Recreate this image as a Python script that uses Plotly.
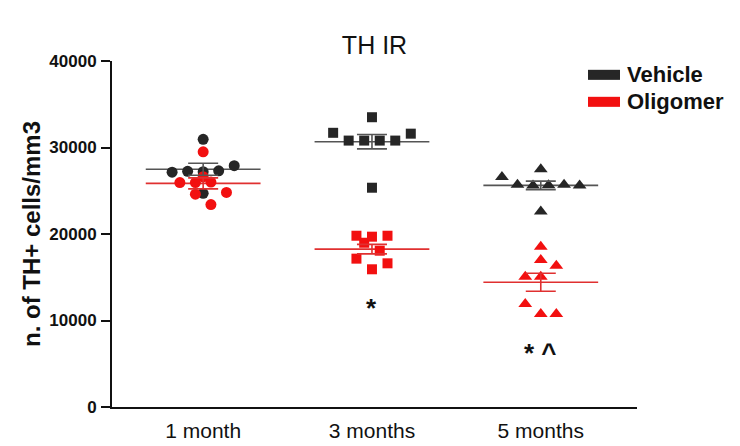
import plotly.graph_objects as go
import numpy as np

# ---- data ----
categories = ["1 month", "3 months", "5 months"]
vehicle_1m = [30950, 27150, 27250, 27200, 27300, 27900, 24700]
vehicle_3m = [33500, 31700, 30800, 30800, 30800, 30800, 31600, 25350]
vehicle_5m = [27500, 26600, 25700, 25600, 25650, 25700, 25600, 22600]
oligomer_1m = [29500, 26620, 25950, 25950, 26000, 24800, 24600, 23400]
oligomer_3m = [19800, 18990, 19690, 19800, 18070, 17150, 15920, 16610]
oligomer_5m = [18530, 16990, 15060, 15060, 16340, 11910, 10750, 10750]
star_labels = ["", "*", "* ^"]
y_ticks = [0, 10000, 20000, 30000, 40000]
series_names = ["Vehicle", "Oligomer"]

vehicle = [vehicle_1m, vehicle_3m, vehicle_5m]
oligomer = [oligomer_1m, oligomer_3m, oligomer_5m]

DARK = "#262626"
RED = "#f21010"
FONT = "Liberation Sans, Arial, sans-serif"
symbols = ["circle", "square", "triangle-up"]
sizes = [11, 10, 12]


def swarm(values, h=1300, step=0.092):
    """Prism-like column scatter: bin close values, spread each bin horizontally."""
    n = len(values)
    order = sorted(range(n), key=lambda i: values[i])
    bins, cur, start = [], [], None
    for i in order:
        if cur and values[i] - start > h:
            bins.append(cur)
            cur = []
        if not cur:
            start = values[i]
        cur.append(i)
    if cur:
        bins.append(cur)
    off = [0.0] * n
    for b in bins:
        b = sorted(b)
        for k, i in enumerate(b):
            off[i] = (k - (len(b) - 1) / 2) * step
    return off


fig = go.Figure()

HALF = 0.34
for series, lcolor in [(vehicle, "#555555"), (oligomer, "#e03030")]:
    for ci, vals in enumerate(series):
        m = float(np.mean(vals))
        fig.add_trace(go.Scatter(x=[ci - HALF, ci + HALF], y=[m, m], mode="lines",
                                 line=dict(color=lcolor, width=1.6), showlegend=False,
                                 hoverinfo="skip"))

for name, series, color in [(series_names[0], vehicle, DARK), (series_names[1], oligomer, RED)]:
    for ci, vals in enumerate(series):
        off = swarm(vals)
        fig.add_trace(go.Scatter(
            x=[ci + o for o in off], y=vals, mode="markers", name=name,
            marker=dict(symbol=symbols[ci], size=sizes[ci], color=color,
                        line=dict(width=0)),
            showlegend=False))

for series, lcolor in [(vehicle, "#555555"), (oligomer, "#e03030")]:
    for ci, vals in enumerate(series):
        m = float(np.mean(vals))
        sem = float(np.std(vals, ddof=1) / np.sqrt(len(vals)))
        fig.add_trace(go.Scatter(x=[ci], y=[m], mode="markers",
                                 marker=dict(size=1, opacity=0),
                                 error_y=dict(type="data", array=[sem], visible=True,
                                              color=lcolor, thickness=1.6, width=15),
                                 showlegend=False, hoverinfo="skip"))

annotations = []
for ci, lab in enumerate(star_labels):
    if lab:
        annotations.append(dict(x=ci, y=min(oligomer[ci]) - 4500, text=lab,
                                showarrow=False, xref="x", yref="y",
                                font=dict(family=FONT, size=26, color="#111", weight="bold")))

# manual legend (rectangle swatches + bold labels)
shapes = []
for k, (name, color) in enumerate(zip(series_names, [DARK, RED])):
    yc = 0.960 - k * 0.078
    shapes.append(dict(type="rect", xref="paper", yref="paper",
                       x0=0.9067, x1=0.9676, y0=yc - 0.0145, y1=yc + 0.0145,
                       fillcolor=color, line=dict(width=0)))
    annotations.append(dict(x=0.978, y=yc, xref="paper", yref="paper", text=name,
                            showarrow=False, xanchor="left", yanchor="middle",
                            font=dict(family=FONT, size=22, color="#111", weight="bold")))

# page body has an 8px margin, so the figure is 8px smaller than the window
fig.update_layout(
    width=732, height=438,
    margin=dict(l=104, r=103, t=53, b=39),
    paper_bgcolor="white", plot_bgcolor="white",
    title=dict(text="TH IR", x=0.5, xref="paper", y=1 - 37 / 438, yref="container",
               yanchor="middle", font=dict(family=FONT, size=25, color="#111")),
    xaxis=dict(range=[-0.54, 2.57], tickvals=[0, 1, 2], ticktext=categories,
               automargin=False, ticklabelstandoff=4,
               showgrid=False, zeroline=False, showline=True, linecolor="#111",
               linewidth=2, ticks="", tickfont=dict(family=FONT, size=21, color="#111")),
    yaxis=dict(range=[0, 40000], tickvals=y_ticks, ticktext=[str(v) for v in y_ticks],
               automargin=False,
               showgrid=False, zeroline=False,
               showline=True, linecolor="#111", linewidth=2, ticks="outside",
               ticklen=9, tickwidth=2, tickcolor="#111", ticklabelstandoff=1,
               tickfont=dict(family=FONT, size=17, color="#111", weight="bold"),
               title=dict(text="n. of TH+ cells/mm3", standoff=2,
                          font=dict(family=FONT, size=24, color="#111", weight="bold"))),
    shapes=shapes,
    annotations=annotations,
    showlegend=False,
)

fig.write_html("out.html")
